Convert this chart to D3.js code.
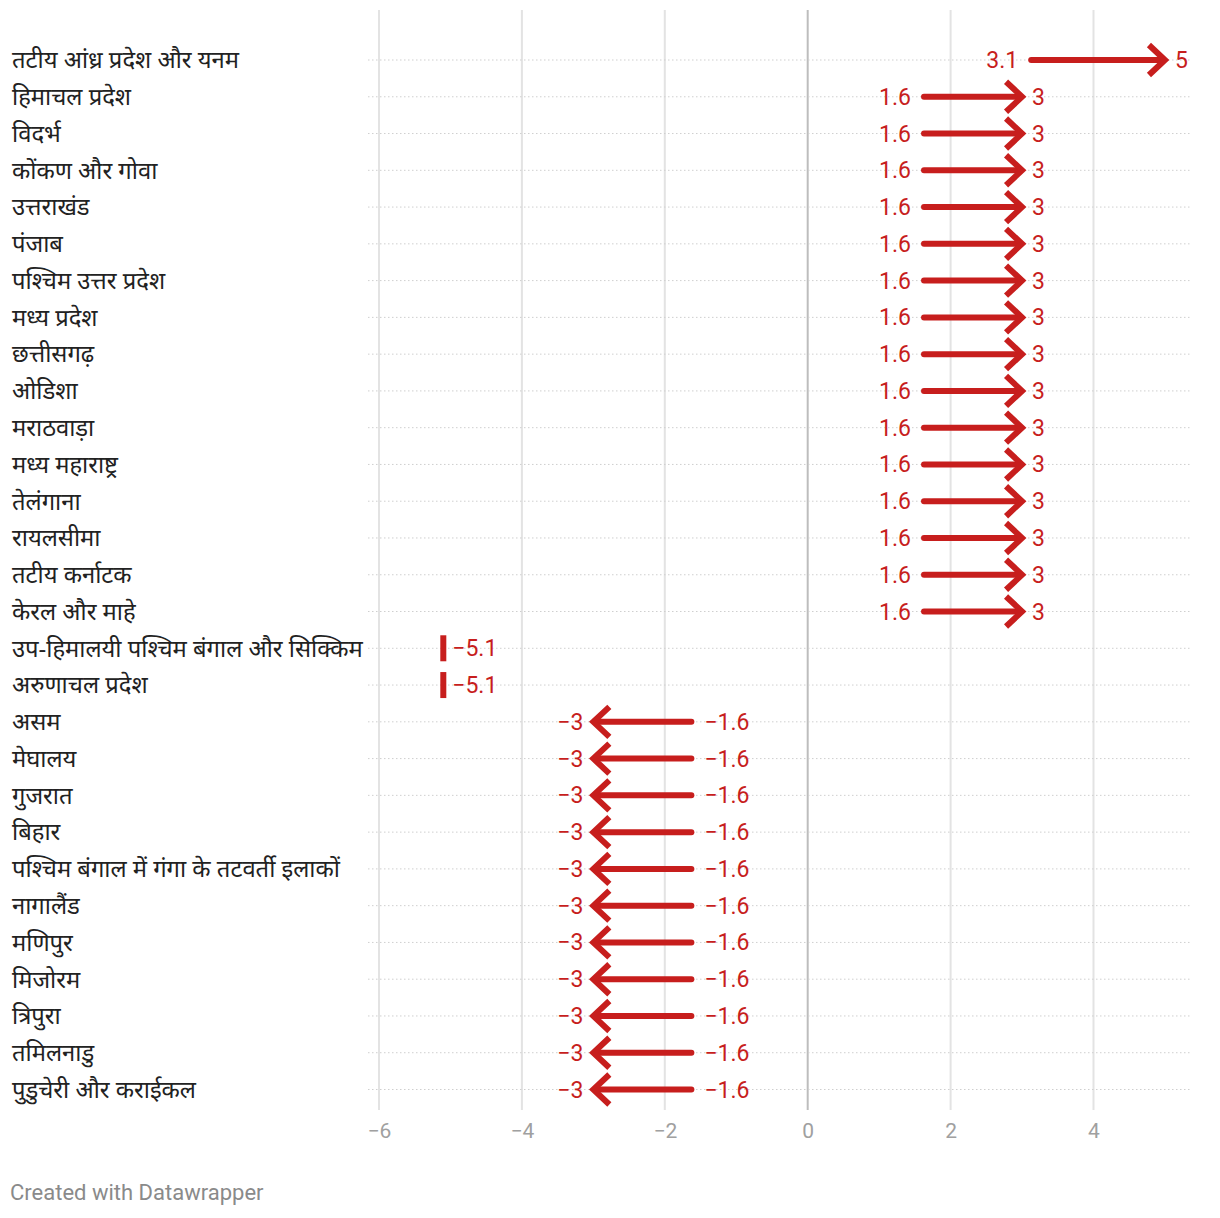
<!DOCTYPE html>
<html><head><meta charset="utf-8">
<script src="https://cdn.jsdelivr.net/npm/d3@7"></script>
<style>
body{margin:0;background:#fff;}
svg{display:block;font-family:Roboto,"Noto Sans",sans-serif;}
</style></head><body>
<svg id="c" width="1220" height="1218"></svg>
<script>
const categories = ["तटीय आंध्र प्रदेश और यनम","हिमाचल प्रदेश","विदर्भ","कोंकण और गोवा","उत्तराखंड","पंजाब","पश्चिम उत्तर प्रदेश","मध्य प्रदेश","छत्तीसगढ़","ओडिशा","मराठवाड़ा","मध्य महाराष्ट्र","तेलंगाना","रायलसीमा","तटीय कर्नाटक","केरल और माहे","उप-हिमालयी पश्चिम बंगाल और सिक्किम","अरुणाचल प्रदेश","असम","मेघालय","गुजरात","बिहार","पश्चिम बंगाल में गंगा के तटवर्ती इलाकों","नागालैंड","मणिपुर","मिजोरम","त्रिपुरा","तमिलनाडु","पुडुचेरी और कराईकल"];
const startValues = [3.1,1.6,1.6,1.6,1.6,1.6,1.6,1.6,1.6,1.6,1.6,1.6,1.6,1.6,1.6,1.6,-5.1,-5.1,-1.6,-1.6,-1.6,-1.6,-1.6,-1.6,-1.6,-1.6,-1.6,-1.6,-1.6];
const endValues = [5,3,3,3,3,3,3,3,3,3,3,3,3,3,3,3,-5.1,-5.1,-3,-3,-3,-3,-3,-3,-3,-3,-3,-3,-3];
const xTicks = [-6,-4,-2,0,2,4];

const svg = d3.select("#c");
const red = "#c71e1d";
const x = d3.scaleLinear().domain([-6,4]).range([379,1093.5]);
const y = d3.scalePoint().domain(categories).range([60,1089.5]);
const fmt = v => (v<0?"\u2212":"") + Math.abs(v);

// vertical grid
svg.append("g").selectAll("line").data(xTicks).join("line")
  .attr("x1",d=>x(d)).attr("x2",d=>x(d)).attr("y1",10).attr("y2",1110)
  .attr("stroke",d=>d===0?"#bdbdbd":"#e3e3e3").attr("stroke-width",2);

// tick labels
const axis = d3.axisBottom(x).tickValues(xTicks).tickSize(0).tickFormat(fmt);
const ag = svg.append("g").attr("transform","translate(0,1120)").call(axis);
ag.select(".domain").remove();
ag.selectAll("text").attr("fill","#a0a0a0").style("font-size","21px").style("font-family","Roboto");

// row dotted lines
svg.append("g").selectAll("line").data(categories).join("line")
  .attr("x1",368).attr("x2",1190).attr("y1",d=>y(d)).attr("y2",d=>y(d))
  .attr("stroke","#cfcfcf").attr("stroke-width",1).attr("stroke-dasharray","1.5,2.5");

// labels
svg.append("g").selectAll("text").data(categories).join("text")
  .attr("x",12).attr("y",d=>y(d)).attr("dy","0.35em")
  .attr("fill","#222").style("font-size","23.8px")
  .style("font-family","'Noto Sans','Noto Sans Devanagari',sans-serif")
  .text(d=>d);

const rows = categories.map((c,i)=>({c,s:startValues[i],e:endValues[i]}));
const g = svg.append("g");
const vfs = "23px";
rows.forEach(r=>{
  const yy = y(r.c), xs = x(r.s), xe = x(r.e);
  if (r.s===r.e){
    g.append("rect").attr("x",xs-3).attr("y",yy-13).attr("width",6).attr("height",26).attr("fill",red);
    g.append("text").attr("x",xs+9).attr("y",yy).attr("dy","0.35em").attr("fill",red)
      .style("font-size",vfs).text(fmt(r.s));
    return;
  }
  const dir = Math.sign(r.e - r.s);
  g.append("line").attr("x1",xs+dir*2).attr("x2",xe-dir*3).attr("y1",yy).attr("y2",yy)
    .attr("stroke",red).attr("stroke-width",6).attr("stroke-linecap","round");
  g.append("path").attr("d",`M${xe-dir*16},${yy-15}L${xe},${yy}L${xe-dir*16},${yy+15}`)
    .attr("fill","none").attr("stroke",red).attr("stroke-width",6).attr("stroke-linejoin","miter");
  g.append("text").attr("x",xs-dir*11).attr("y",yy).attr("dy","0.35em").attr("fill",red)
    .attr("text-anchor",dir>0?"end":"start").style("font-size",vfs).text(fmt(r.s));
  g.append("text").attr("x",xe+dir*10).attr("y",yy).attr("dy","0.35em").attr("fill",red)
    .attr("text-anchor",dir>0?"start":"end").style("font-size",vfs).text(fmt(r.e));
});

svg.append("text").attr("x",10).attr("y",1200).attr("fill","#8a8a8a")
  .style("font-size","22px").text("Created with Datawrapper");
</script></body></html>
